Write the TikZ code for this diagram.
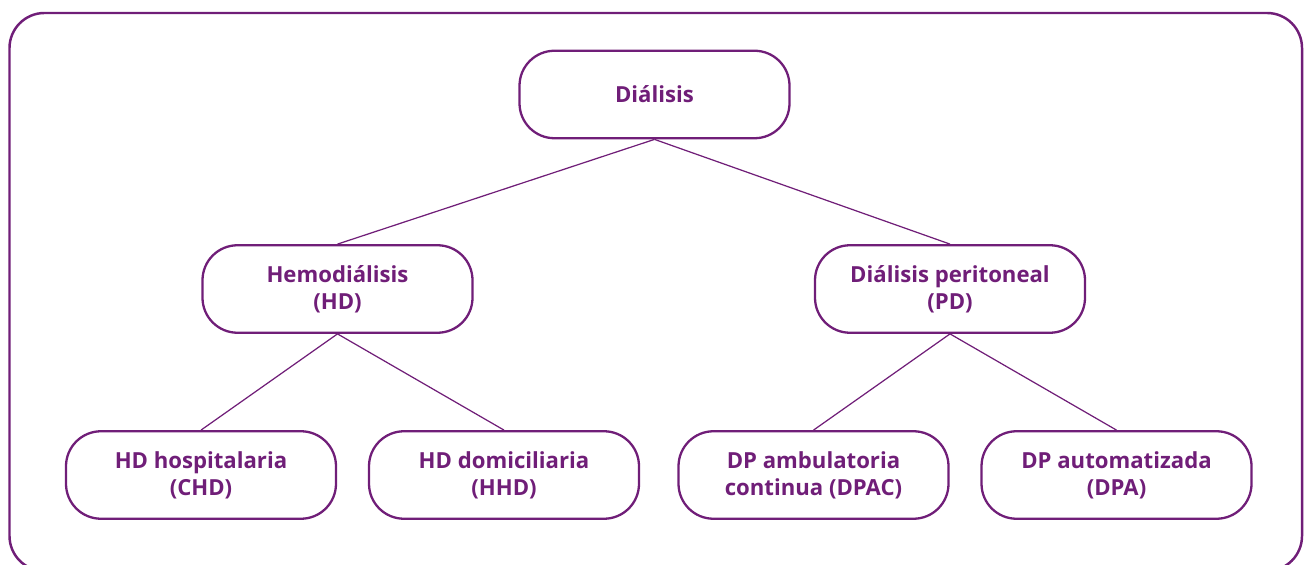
\documentclass[tikz,border=0pt]{standalone}
\usepackage{fontspec}
\setmainfont{Open Sans}
\usepackage{xcolor}
\usetikzlibrary{positioning}

\definecolor{dialpurple}{RGB}{112,30,120}

\begin{document}
\begin{tikzpicture}[every node/.style={rectangle, rounded corners=0.7cm, draw=dialpurple, line width=1.3pt,
    minimum width=5.4cm, minimum height=1.75cm, align=center, text=dialpurple,
    font=\fontsize{12.6}{15.5}\selectfont\bfseries, fill=white},
  link/.style={draw=dialpurple, line width=0.7pt}]
  \useasboundingbox (0,0) rectangle (26.22,-11.3);
  \begin{scope}
    \clip (0,0) rectangle (26.22,-11.3);
    \draw[dialpurple, line width=1.4pt, rounded corners=0.7cm] (0.19,-0.26) rectangle (26.04,-11.42);
  \end{scope}
  \node (root) at (13.09,-1.89) {Diálisis};
  \node (hd)  [below of=root, node distance=3.89cm, xshift=-6.34cm] {Hemodiálisis\\(HD)};
  \node (pd)  [below of=root, node distance=3.89cm, xshift=5.91cm] {Diálisis peritoneal\\(PD)};
  \node (chd) [below of=hd, node distance=3.72cm, xshift=-2.73cm] {HD hospitalaria\\(CHD)};
  \node (hhd) [below of=hd, node distance=3.72cm, xshift=3.33cm] {HD domiciliaria\\(HHD)};
  \node (dpac) [below of=pd, node distance=3.72cm, xshift=-2.73cm] {DP ambulatoria\\continua (DPAC)};
  \node (dpa) [below of=pd, node distance=3.72cm, xshift=3.33cm] {DP automatizada\\(DPA)};
  \draw[link] (root.south) -- (hd.north);
  \draw[link] (root.south) -- (pd.north);
  \draw[link] (hd.south) -- (chd.north);
  \draw[link] (hd.south) -- (hhd.north);
  \draw[link] (pd.south) -- (dpac.north);
  \draw[link] (pd.south) -- (dpa.north);
\end{tikzpicture}
\end{document}
